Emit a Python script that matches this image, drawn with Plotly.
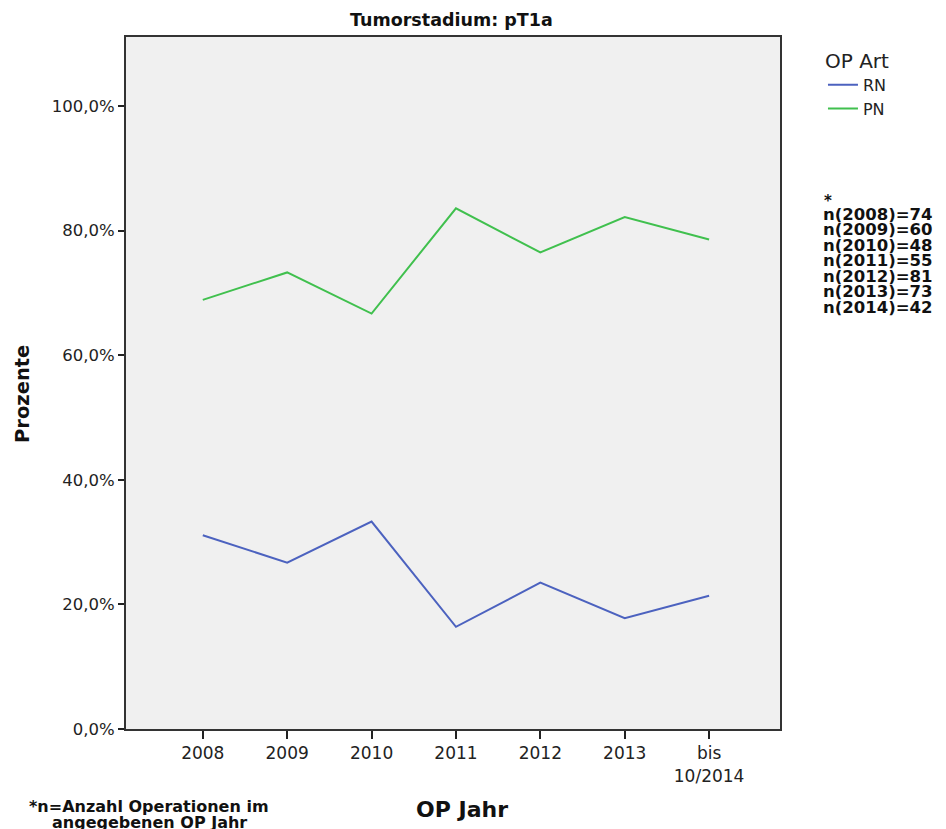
import plotly.graph_objects as go

years = ["2008", "2009", "2010", "2011", "2012", "2013", "bis<br>10/2014"]
rn = [31.1, 26.7, 33.3, 16.4, 23.5, 17.8, 21.4]
pn = [68.9, 73.3, 66.7, 83.6, 76.5, 82.2, 78.6]
n_labels = ["n(2008)=74", "n(2009)=60", "n(2010)=48", "n(2011)=55",
            "n(2012)=81", "n(2013)=73", "n(2014)=42"]
footnote = ["*n=Anzahl Operationen im", "angegebenen OP Jahr"]
y_ticks = [0, 20, 40, 60, 80, 100]
y_ticktext = ["0,0%", "20,0%", "40,0%", "60,0%", "80,0%", "100,0%"]

xi = list(range(len(years)))
FONT = "DejaVu Sans"

fig = go.Figure()
fig.add_trace(go.Scatter(x=xi, y=rn, mode="lines", name="RN", legendgroup="rn",
                         line=dict(color="#4c62bf", width=2)))
fig.add_trace(go.Scatter(x=xi, y=pn, mode="lines", name="PN", legendgroup="pn",
                         line=dict(color="#40c04e", width=2)))

# page body has an 8px default margin, so the figure is offset by (8, 8)
fig.update_layout(
    width=946, height=829,
    margin=dict(l=118, r=174, t=29, b=108),
    paper_bgcolor="white", plot_bgcolor="#f0f0f0",
    showlegend=True,
    legend=dict(x=1.0657, xanchor="left", y=0.993, yanchor="top",
                title=dict(text="OP Art", font=dict(size=20, family=FONT, color="#222")),
                font=dict(size=16, family=FONT, color="#222"),
                bgcolor="rgba(0,0,0,0)", tracegroupgap=0, itemwidth=30),
    font=dict(family=FONT, color="#222"),
)
fig.update_xaxes(
    range=[-0.91, 6.84], tickvals=xi, ticktext=years,
    showgrid=False, zeroline=False, automargin=False,
    showline=True, linecolor="#333", linewidth=2, mirror=True,
    ticks="outside", ticklen=8, tickwidth=1.5, tickcolor="#222",
    tickfont=dict(size=17, family=FONT, color="#222"),
)
fig.update_yaxes(
    range=[0, 111.1], tickvals=y_ticks, ticktext=y_ticktext,
    showgrid=False, zeroline=False, automargin=False,
    showline=True, linecolor="#333", linewidth=2, mirror=True,
    ticks="outside", ticklen=6, tickwidth=1.5, tickcolor="#222",
    tickfont=dict(size=16.5, family=FONT, color="#222"),
)

# chart title and axis titles
fig.add_annotation(text="<b>Tumorstadium: pT1a</b>", xref="paper", yref="paper",
                   x=0.5, xshift=-2, y=1, yshift=17, yanchor="middle", showarrow=False,
                   font=dict(size=17.5, family=FONT, color="#111"))
fig.add_annotation(text="<b>OP Jahr</b>", xref="paper", yref="paper",
                   x=0.5, xshift=9, y=0, yshift=-80, yanchor="middle", showarrow=False,
                   font=dict(size=22, family=FONT, color="#111"))
fig.add_annotation(text="<b>Prozente</b>", xref="paper", yref="paper",
                   x=0, xshift=-104, y=0.5, yshift=-11, textangle=-90, xanchor="center",
                   yanchor="middle", showarrow=False,
                   font=dict(size=19.5, family=FONT, color="#111"))

# n annotations
fig.add_annotation(text="<b>*</b>", xref="paper", yref="paper", x=1.0, xshift=42,
                   xanchor="left", y=1.0, yshift=-164, yanchor="middle",
                   showarrow=False, font=dict(size=15, family=FONT, color="#111"))
for i, s in enumerate(n_labels):
    fig.add_annotation(text="<b>%s</b>" % s, xref="paper", yref="paper",
                       x=1.0, xshift=41, xanchor="left",
                       y=1.0, yshift=-177 - 15.5 * i, yanchor="middle",
                       showarrow=False,
                       font=dict(size=16.5, family=FONT, color="#111"))

# footnote
for i, s in enumerate(footnote):
    fig.add_annotation(text="<b>%s</b>" % s, xref="paper", yref="paper",
                       x=0, xshift=-126 + 149, xanchor="center",
                       y=0, yshift=-77 - 16 * i, yanchor="middle",
                       showarrow=False,
                       font=dict(size=16, family=FONT, color="#111"))

fig.write_html("out.html")
